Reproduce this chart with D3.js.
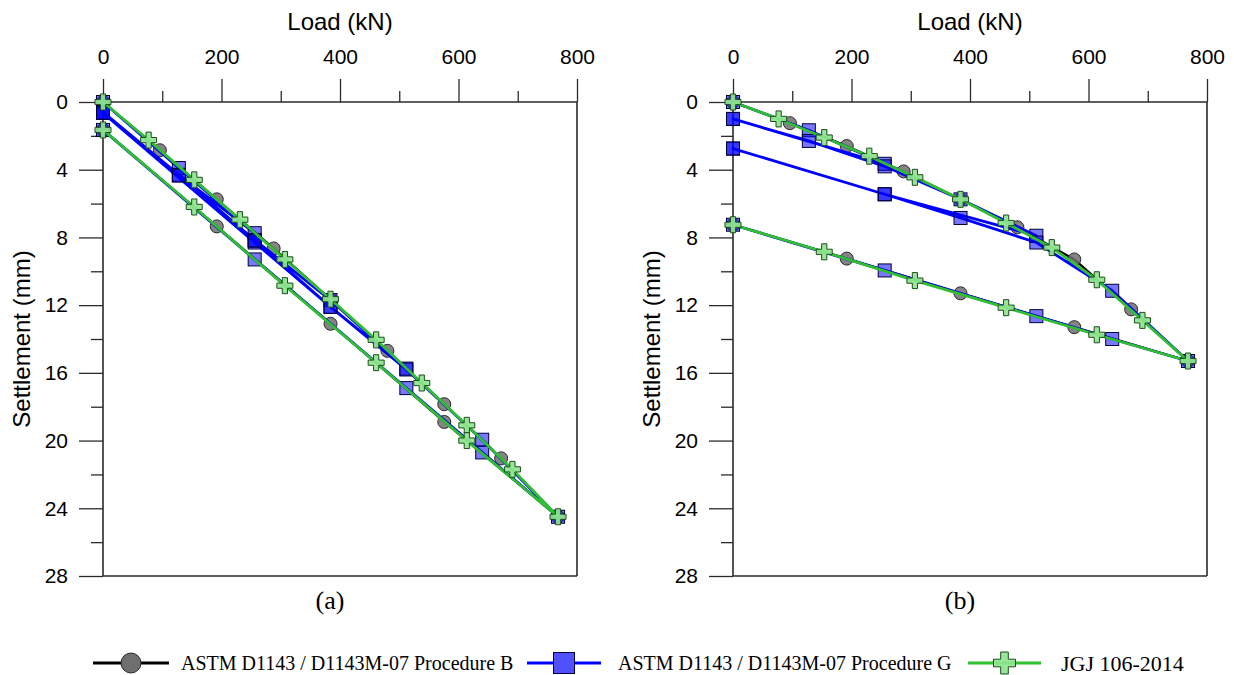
<!DOCTYPE html>
<html>
<head>
<meta charset="utf-8">
<script src="https://cdn.jsdelivr.net/npm/d3@7/dist/d3.min.js"></script>
<style>
  html, body { margin: 0; padding: 0; background: #fff; }
  svg { display: block; }
</style>
</head>
<body>
<svg id="chart" width="1234" height="675"></svg>
<script>
// ---------------- DATA ----------------
const loadTicks = [0, 200, 400, 600, 800];
const loadMinorTicks = [100, 300, 500, 700];
const settleTicks = [0, 4, 8, 12, 16, 20, 24, 28];
const settleMinorTicks = [2, 6, 10, 14, 18, 22, 26];

const seriesNames = [
  "ASTM D1143 / D1143M-07 Procedure B",
  "ASTM D1143 / D1143M-07 Procedure G",
  "JGJ 106-2014"
];
const panelLabels = ["(a)", "(b)"];

// Panel (a): [load kN, settlement mm] in test order
const procB_a = [[0,0],[96,2.85],[192,5.75],[288,8.65],[384,11.65],[480,14.7],[576,17.85],[672,21.05],[768,24.5],
                 [576,18.9],[384,13.1],[192,7.35],[0,1.65]];
const procG_a = [[0,0],[128,3.9],[256,7.75],[128,4.3],[0,0.6],[0,0.6],[128,4.35],[256,8.15],[384,11.7],[512,15.75],
                 [384,12.1],[256,8.3],[0,0.65],[0,0.65],[256,8.2],[384,12.1],[512,15.8],[640,19.95],[768,24.5],
                 [640,20.7],[512,16.9],[256,9.3],[0,1.65]];
const jgj_a   = [[0,0],[77,2.25],[154,4.6],[231,6.95],[307,9.3],[384,11.65],[461,14.05],[538,16.6],[614,19.1],[691,21.7],[768,24.5],
                 [614,20.0],[461,15.4],[307,10.85],[154,6.2],[0,1.65]];

// Panel (b)
const procB_b = [[0,0],[96,1.25],[192,2.6],[288,4.1],[384,5.75],[480,7.4],[576,9.3],[672,12.25],[768,15.3],
                 [576,13.3],[384,11.3],[192,9.25],[0,7.25]];
const procG_b = [[0,0],[128,1.67],[256,3.65],[0,1.0],[0,1.0],[128,2.3],[256,3.8],[384,5.75],[512,7.9],
                 [256,5.45],[0,2.75],[0,2.75],[256,5.45],[384,6.85],[512,8.3],[640,11.15],[768,15.3],
                 [640,14.0],[512,12.65],[256,9.95],[0,7.25]];
const jgj_b   = [[0,0],[77,1.0],[154,2.1],[230,3.2],[307,4.45],[384,5.75],[461,7.15],[538,8.6],[614,10.5],[691,12.9],[768,15.3],
                 [614,13.75],[461,12.15],[307,10.55],[154,8.85],[0,7.25]];

// ---------------- STYLE ----------------
const SANS = "'Liberation Sans', Arial, Helvetica, sans-serif";
const SERIF = "'Liberation Serif', 'Times New Roman', serif";
const lineColors = ["#000000", "#0000ff", "#2fbf2f"];
const axisColor = "#2a2a2a";

const svg = d3.select("#chart");

function crossPath(a, t) {
  return `M${-t},${-a}H${t}V${-t}H${a}V${t}H${t}V${a}H${-t}V${t}H${-a}V${-t}H${-t}Z`;
}

function drawMarker(g, type, x, y, big) {
  if (type === 0) {
    g.append("circle").attr("cx", x).attr("cy", y).attr("r", big ? 10 : 6.5)
      .attr("fill", "#6f6f6f").attr("fill-opacity", big ? 1 : 0.85)
      .attr("stroke", "#2a2a2a").attr("stroke-width", 1);
  } else if (type === 1) {
    const s = big ? 21 : 13;
    g.append("rect").attr("x", x - s / 2).attr("y", y - s / 2).attr("width", s).attr("height", s)
      .attr("fill", big ? "#5050ff" : "#0000ff").attr("fill-opacity", big ? 1 : 0.53)
      .attr("stroke", "#00003a").attr("stroke-width", 1);
  } else {
    g.append("path").attr("d", big ? crossPath(11, 3.8) : crossPath(8, 2.6))
      .attr("transform", `translate(${x},${y})`)
      .attr("fill", "#8fe58f").attr("fill-opacity", 0.92)
      .attr("stroke", "#1d4d1d").attr("stroke-width", 1);
  }
}

function drawPanel(x0, x1, y0, y1, seriesList, label) {
  const g = svg.append("g");
  const x = d3.scaleLinear().domain([0, 800]).range([x0, x1]);
  const y = d3.scaleLinear().domain([0, 28]).range([y0, y1]);

  // frame: right and bottom
  g.append("line").attr("x1", x1).attr("x2", x1).attr("y1", y0).attr("y2", y1)
    .attr("stroke", axisColor).attr("stroke-width", 1.6);
  g.append("line").attr("x1", x0).attr("x2", x1).attr("y1", y1).attr("y2", y1)
    .attr("stroke", axisColor).attr("stroke-width", 1.6);

  // top axis
  const top = g.append("g").attr("transform", `translate(0,${y0})`)
    .call(d3.axisTop(x).tickValues(loadTicks).tickSize(23).tickPadding(15).tickFormat(d3.format("d")));
  const topMinor = top.append("g").call(d3.axisTop(x).tickValues(loadMinorTicks).tickSize(11).tickFormat(""));
  // left axis
  const left = g.append("g").attr("transform", `translate(${x0},0)`)
    .call(d3.axisLeft(y).tickValues(settleTicks).tickSize(24).tickPadding(11).tickFormat(d3.format("d")));
  const leftMinor = left.append("g").call(d3.axisLeft(y).tickValues(settleMinorTicks).tickSize(12).tickFormat(""));

  [top, left].forEach(a => {
    a.selectAll(".tick line").attr("stroke", axisColor).attr("stroke-width", 1.3);
    a.selectAll("text").attr("font-family", SANS).attr("font-size", 21).attr("fill", "#000");
  });
  topMinor.select(".domain").remove();
  leftMinor.select(".domain").remove();
  top.select(".domain").attr("d", `M${x0},0H${x1}`).attr("stroke", axisColor).attr("stroke-width", 1.6);
  left.select(".domain").attr("d", `M0,${y0}V${y1}`).attr("stroke", axisColor).attr("stroke-width", 1.6);

  // axis titles
  g.append("text").attr("x", (x0 + x1) / 2).attr("y", 30).attr("text-anchor", "middle")
    .attr("font-family", SANS).attr("font-size", 24).text("Load (kN)");
  const ly = (y0 + y1) / 2;
  g.append("text").attr("transform", `translate(${x0 - 81},${ly}) rotate(-90)`)
    .attr("text-anchor", "middle").attr("dy", "0.35em")
    .attr("font-family", SANS).attr("font-size", 24).text("Settlement (mm)");

  // panel label
  g.append("text").attr("x", (x0 + x1) / 2 - 10).attr("y", 609).attr("text-anchor", "middle")
    .attr("font-family", SERIF).attr("font-size", 26).text(label);

  // series
  const line = d3.line().x(d => x(d[0])).y(d => y(d[1]));
  seriesList.forEach((data, i) => {
    const sg = g.append("g");
    sg.append("path").attr("d", line(data)).attr("fill", "none")
      .attr("stroke", lineColors[i]).attr("stroke-width", i === 0 ? 2.2 : 2.8)
      .attr("stroke-linejoin", "round");
    data.forEach(d => drawMarker(sg, i, x(d[0]), y(d[1]), false));
  });
}

drawPanel(103, 577, 102, 576, [procB_a, procG_a, jgj_a], panelLabels[0]);
drawPanel(733, 1207, 102, 576, [procB_b, procG_b, jgj_b], panelLabels[1]);

// ---------------- LEGEND ----------------
const legY = 663;
const legend = svg.append("g");
const legItems = [
  { x1: 93, x2: 169, tx: 181, fs: 20 },
  { x1: 527, x2: 601, tx: 618, fs: 20 },
  { x1: 968, x2: 1041, tx: 1061, fs: 22 }
];
legItems.forEach((it, i) => {
  legend.append("line").attr("x1", it.x1).attr("x2", it.x2).attr("y1", legY).attr("y2", legY)
    .attr("stroke", lineColors[i]).attr("stroke-width", 3);
  drawMarker(legend, i, (it.x1 + it.x2) / 2, legY, true);
  legend.append("text").attr("x", it.tx).attr("y", legY).attr("dy", "0.35em")
    .attr("font-family", SERIF).attr("font-size", it.fs).text(seriesNames[i]);
});
</script>
</body>
</html>
